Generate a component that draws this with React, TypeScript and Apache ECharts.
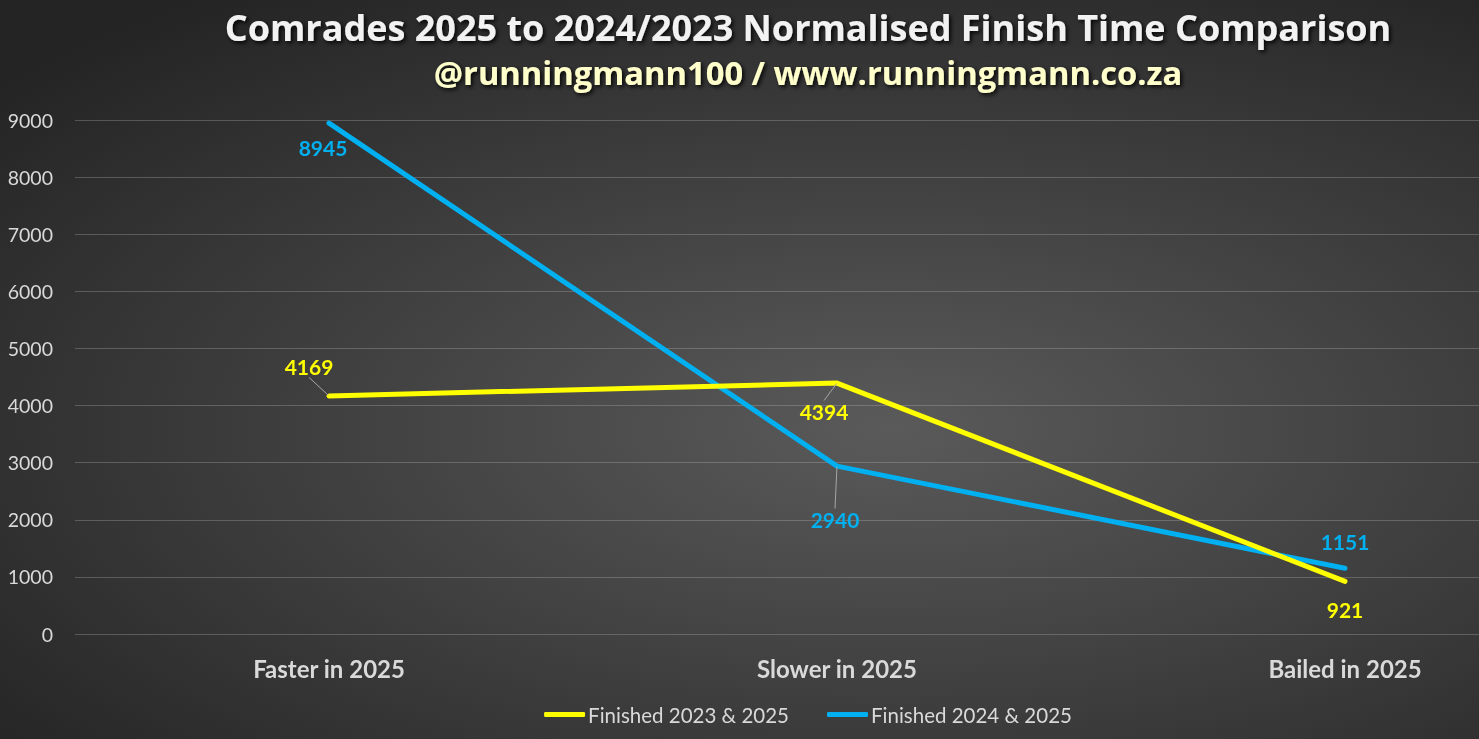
import React, { useEffect, useRef } from "react";
import * as echarts from "echarts";

const categories = ["Faster in 2025", "Slower in 2025", "Bailed in 2025"];
const finished2023 = [4169, 4394, 921];
const finished2024 = [8945, 2940, 1151];
const seriesNames = ["Finished 2023 & 2025", "Finished 2024 & 2025"];
const yTicks = [0, 1000, 2000, 3000, 4000, 5000, 6000, 7000, 8000, 9000];

// label placement (offsets from point) and leader-line visibility
const labelOffsets = [
  [[-20, -29], [-13, 28], [0, 28]],
  [[-6, 24], [-2, 53], [0, -27]],
];
const leaderShown = [
  [true, true, false],
  [false, true, false],
];

const YELLOW = "#FFFF00";
const BLUE = "#00B0F0";
const FONT = "Lato, 'Open Sans', sans-serif";
const TFONT = "'Open Sans', Lato, sans-serif";

export default function App() {
  const ref = useRef<HTMLDivElement>(null);
  useEffect(() => {
    if (!ref.current) return;
    const chart = echarts.init(ref.current, undefined, { renderer: "svg" });
    const mk = (vals: number[], si: number) =>
      vals.map((v, i) => ({
        value: v,
        labelLine: { show: leaderShown[si][i] },
      }));
    const seriesBase = (name: string, vals: number[], color: string, si: number) => ({
      name,
      type: "line",
      data: mk(vals, si),
      symbol: "circle",
      symbolSize: 1,
      showSymbol: true,
      itemStyle: { color },
      lineStyle: { color, width: 5, cap: "round", join: "round" },
      emphasis: { disabled: true },
      label: {
        show: true,
        position: "inside",
        color,
        fontFamily: FONT,
        fontWeight: "bold",
        fontSize: 21,
      },
      labelLine: {
        show: false,
        lineStyle: { color: "#A6A6A6", width: 1 },
      },
      labelLayout: (p: any) => {
        const o = labelOffsets[si][p.dataIndex];
        return { dx: o[0], dy: o[1] };
      },
      z: si === 0 ? 3 : 2,
    });
    chart.setOption({
      animation: false,
      backgroundColor: {
        type: "radial",
        x: 0.55,
        y: 0.58,
        r: 0.72,
        colorStops: [
          { offset: 0, color: "#5a5a5a" },
          { offset: 1, color: "#242424" },
        ],
      },
      title: [
        {
          text: "Comrades 2025 to 2024/2023 Normalised Finish Time Comparison",
          left: "center",
          top: 4,
          textStyle: {
            color: "#F2F2F2",
            fontFamily: TFONT,
            fontWeight: "bold",
            fontSize: 36,
            textShadowColor: "rgba(0,0,0,0.9)",
            textShadowBlur: 4,
            textShadowOffsetX: 2,
            textShadowOffsetY: 2,
          },
        },
        {
          text: "@runningmann100 / www.runningmann.co.za",
          left: "center",
          top: 51,
          textStyle: {
            color: "#FFFFCC",
            fontFamily: TFONT,
            fontWeight: "bold",
            fontSize: 32.7,
            textShadowColor: "rgba(0,0,0,0.9)",
            textShadowBlur: 4,
            textShadowOffsetX: 2,
            textShadowOffsetY: 2,
          },
        },
      ],
      legend: {
        bottom: 9,
        left: "center",
        icon: "roundRect",
        itemWidth: 41,
        itemHeight: 5,
        itemGap: 38,
        data: seriesNames,
        selectedMode: false,
        textStyle: { color: "#D9D9D9", fontFamily: FONT, fontSize: 20.5, padding: [0, 0, 0, -2] },
      },
      grid: { left: 75, right: 17, top: 120, bottom: 105, containLabel: false },
      xAxis: {
        type: "category",
        data: categories,
        boundaryGap: true,
        axisLine: { show: false },
        axisTick: { show: false },
        axisLabel: {
          color: "#D9D9D9",
          fontFamily: FONT,
          fontWeight: "bold",
          fontSize: 24,
          margin: 22,
        },
      },
      yAxis: {
        type: "value",
        min: yTicks[0],
        max: yTicks[yTicks.length - 1],
        interval: 1000,
        axisLine: { show: false },
        axisTick: { show: false },
        splitLine: { lineStyle: { color: "rgba(200,200,200,0.28)", width: 1 } },
        axisLabel: {
          color: "#D9D9D9",
          fontFamily: FONT,
          fontSize: 19.5,
          margin: 22,
          formatter: (v: number) => String(v),
        },
      },
      series: [
        seriesBase(seriesNames[0], finished2023, YELLOW, 0),
        seriesBase(seriesNames[1], finished2024, BLUE, 1),
      ],
    });
    return () => chart.dispose();
  }, []);
  return (
    <div
      style={{
        position: "fixed",
        left: 0,
        top: 0,
        width: 1479,
        height: 739,
        overflow: "hidden",
      }}
    >
      <div ref={ref} style={{ width: 1616, height: 739 }} />
    </div>
  );
}
